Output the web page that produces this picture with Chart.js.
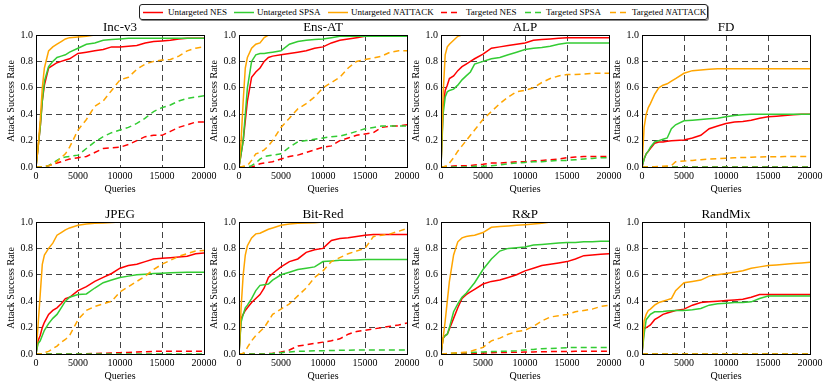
<!DOCTYPE html>
<html>
<head>
<meta charset="utf-8">
<script src="https://cdn.jsdelivr.net/npm/chart.js@4.4.0/dist/chart.umd.min.js"></script>
<style>
body{margin:0;background:#fff;width:830px;height:388px;overflow:hidden;position:relative;font-family:"Liberation Serif",serif;}
canvas{position:absolute;}
#legendBox{position:absolute;left:139px;top:4px;width:567px;height:14px;border:1px solid #222;border-radius:3px;box-shadow:1px 1px 0 #888;}
.lg{position:absolute;top:4px;height:16px;line-height:16px;font-size:9px;white-space:nowrap;color:#000;}
.lg i{font-family:"Liberation Serif",serif;font-style:italic;}
.sw{position:absolute;top:11px;}
</style>
</head>
<body>
<div id="legendBox"></div>
<script>
var panels = ['Inc-v3', 'Ens-AT', 'ALP', 'FD', 'JPEG', 'Bit-Red', 'R&P', 'RandMix'];
var queries = [0, 250, 500, 750, 1000, 1500, 2000, 2500, 3000, 3500, 4000, 5000, 6000, 7000, 8000, 9000, 10000, 11000, 12000, 13000, 14000, 15000, 16000, 17000, 18000, 19000, 20000];
var yTicks = [0, 0.2, 0.4, 0.6, 0.8, 1.0];
var xTicks = [0, 5000, 10000, 15000, 20000];

// one row per panel, same order as panels
var untargetedNES = [
	[0, .15, .3, .5, .62, .75, .77, .79, .8, .81, .82, .86, .87, .88, .89, .91, .91, .915, .92, .94, .95, .955, .96, .97, .975, .975, .975],
	[0, .1, .2, .35, .5, .68, .72, .75, .8, .83, .84, .85, .86, .87, .88, .9, .91, .94, .96, .97, .98, .99, .99, .99, .99, .99, .99],
	[0, .45, .58, .62, .67, .69, .73, .76, .78, .8, .82, .855, .9, .91, .92, .93, .94, .96, .965, .97, .975, .98, .98, .98, .98, .98, .98],
	[0, .06, .1, .12, .14, .18, .19, .19, .195, .198, .2, .205, .22, .24, .29, .31, .33, .34, .345, .355, .37, .38, .385, .39, .395, .4, .4],
	[0, .1, .14, .2, .24, .3, .33, .35, .38, .42, .43, .48, .51, .55, .58, .61, .65, .67, .68, .7, .72, .725, .73, .735, .74, .76, .765],
	[0, .27, .3, .33, .35, .39, .42, .45, .5, .58, .61, .66, .7, .72, .77, .79, .8, .86, .875, .88, .89, .9, .905, .905, .905, .905, .905],
	[0, .12, .14, .15, .19, .27, .35, .42, .45, .47, .49, .53, .55, .56, .58, .6, .63, .65, .67, .68, .69, .7, .72, .745, .75, .755, .76],
	[0, .19, .2, .21, .22, .26, .28, .3, .31, .32, .33, .34, .37, .39, .395, .4, .405, .41, .415, .43, .45, .45, .45, .45, .45, .45, .45]
];
var untargetedSPSA = [
	[0, .15, .3, .5, .65, .76, .8, .83, .84, .85, .87, .9, .93, .94, .96, .965, .97, .975, .975, .975, .975, .975, .975, .975, .975, .975, .975],
	[0, .1, .2, .4, .6, .8, .85, .86, .86, .865, .87, .88, .93, .95, .96, .965, .97, .98, .99, .99, .99, .99, .99, .99, .99, .99, .99],
	[0, .4, .53, .57, .58, .59, .62, .66, .69, .72, .78, .8, .82, .83, .85, .87, .89, .9, .905, .915, .93, .94, .94, .94, .94, .94, .94],
	[0, .06, .1, .12, .15, .19, .2, .21, .22, .29, .32, .35, .355, .36, .365, .37, .38, .39, .395, .4, .4, .4, .4, .4, .4, .4, .4],
	[0, .08, .1, .14, .18, .23, .27, .3, .35, .4, .43, .45, .455, .5, .54, .56, .58, .59, .6, .605, .61, .612, .615, .617, .62, .62, .62],
	[0, .24, .3, .35, .37, .42, .48, .52, .525, .53, .56, .6, .62, .64, .65, .66, .7, .705, .71, .71, .712, .715, .715, .715, .715, .715, .715],
	[0, .12, .14, .15, .2, .32, .38, .43, .46, .5, .54, .64, .72, .78, .8, .805, .81, .825, .83, .835, .84, .845, .845, .85, .85, .855, .855],
	[0, .15, .26, .28, .3, .32, .32, .322, .325, .328, .33, .33, .335, .345, .37, .38, .385, .39, .39, .395, .42, .44, .44, .44, .44, .44, .44]
];
var untargetedNAT = [
	[0, .15, .35, .6, .75, .88, .91, .93, .95, .97, .98, .985, .99, 1, 1, 1, 1, 1, 1, 1, 1, 1, 1, 1, 1, 1, 1],
	[0, .2, .5, .75, .83, .9, .93, .94, .98, 1, 1, 1, 1, 1, 1, 1, 1, 1, 1, 1, 1, 1, 1, 1, 1, 1, 1],
	[0, .55, .85, .91, .93, .96, .99, 1, 1, 1, 1, 1, 1, 1, 1, 1, 1, 1, 1, 1, 1, 1, 1, 1, 1, 1, 1],
	[0, .3, .4, .45, .48, .55, .6, .62, .63, .65, .67, .71, .73, .735, .74, .745, .745, .745, .745, .745, .745, .745, .745, .745, .745, .745, .745],
	[0, .22, .45, .68, .75, .8, .84, .9, .92, .94, .955, .975, .985, .99, .993, .996, 1, 1, 1, 1, 1, 1, 1, 1, 1, 1, 1],
	[0, .35, .6, .75, .82, .88, .91, .915, .93, .945, .955, .975, .985, .99, .992, .995, 1, 1, 1, 1, 1, 1, 1, 1, 1, 1, 1],
	[0, .12, .25, .4, .55, .75, .85, .88, .89, .895, .9, .92, .96, .965, .97, .975, .98, .985, .99, 1, 1, 1, 1, 1, 1, 1, 1],
	[0, .25, .3, .33, .34, .37, .39, .4, .41, .42, .48, .54, .55, .56, .59, .6, .61, .62, .63, .65, .66, .67, .675, .68, .685, .69, .695]
];
var targetedNES = [
	[0, 0, 0, 0, 0, .01, .02, .03, .04, .05, .06, .07, .08, .11, .14, .145, .15, .17, .2, .23, .24, .24, .27, .3, .32, .34, .34],
	[0, 0, 0, 0, 0, 0, .01, .025, .03, .035, .04, .06, .08, .09, .11, .13, .15, .16, .2, .22, .24, .25, .26, .3, .31, .31, .32],
	[0, 0, 0, 0, .005, .008, .01, .01, .01, .012, .015, .02, .03, .03, .035, .04, .04, .045, .05, .055, .06, .07, .075, .08, .08, .08, .08],
	[0, 0, 0, 0, 0, 0, 0, 0, 0, 0, 0, 0, 0, 0, 0, 0, 0, 0, 0, 0, 0, 0, 0, 0, 0, 0, 0],
	[0, 0, 0, 0, 0, 0, 0, 0, 0, 0, 0, 0, .002, .004, .005, .008, .01, .012, .015, .017, .02, .02, .02, .02, .02, .02, .02],
	[0, 0, 0, 0, 0, 0, 0, 0, 0, .003, .006, .015, .03, .06, .07, .08, .09, .1, .115, .15, .17, .18, .19, .2, .21, .22, .235],
	[0, 0, 0, 0, 0, .002, .003, .004, .004, .005, .005, .007, .01, .011, .012, .013, .015, .016, .017, .018, .018, .019, .02, .02, .02, .02, .02],
	[0, 0, 0, 0, 0, 0, 0, 0, 0, 0, 0, 0, 0, 0, 0, 0, 0, 0, 0, 0, 0, 0, 0, 0, 0, 0, 0]
];
var targetedSPSA = [
	[0, 0, 0, 0, 0, .01, .03, .05, .07, .075, .08, .09, .14, .19, .23, .26, .28, .3, .33, .37, .42, .45, .47, .5, .52, .53, .54],
	[0, 0, 0, 0, 0, .01, .03, .06, .08, .085, .09, .1, .15, .19, .2, .21, .22, .23, .235, .25, .27, .29, .3, .31, .31, .31, .31],
	[0, 0, 0, 0, 0, 0, 0, 0, 0, 0, .005, .005, .01, .015, .025, .03, .035, .04, .04, .045, .05, .05, .055, .06, .065, .07, .07],
	[0, 0, 0, 0, 0, 0, 0, 0, 0, 0, 0, 0, 0, 0, 0, 0, 0, 0, 0, 0, 0, 0, 0, 0, 0, 0, 0],
	[0, 0, 0, 0, 0, 0, 0, 0, 0, 0, 0, 0, 0, 0, 0, 0, 0, 0, 0, 0, 0, 0, 0, 0, 0, 0, 0],
	[0, 0, 0, 0, 0, 0, 0, 0, 0, .002, .004, .01, .015, .02, .022, .024, .025, .026, .028, .029, .03, .03, .03, .03, .03, .03, .03],
	[0, 0, 0, 0, .005, .006, .008, .009, .01, .012, .013, .015, .018, .02, .022, .025, .03, .035, .04, .042, .045, .048, .05, .05, .05, .05, .05],
	[0, 0, 0, 0, 0, 0, 0, 0, 0, 0, 0, 0, 0, 0, 0, 0, 0, 0, 0, 0, 0, 0, 0, 0, 0, 0, 0]
];
var targetedNAT = [
	[0, 0, 0, 0, .005, .01, .02, .04, .07, .1, .15, .28, .36, .46, .5, .58, .66, .68, .74, .78, .8, .81, .815, .84, .88, .9, .91],
	[0, 0, .005, .008, .01, .05, .1, .11, .13, .16, .2, .3, .37, .44, .48, .53, .6, .64, .68, .75, .8, .815, .825, .84, .87, .88, .88],
	[0, 0, .005, .01, .03, .07, .12, .16, .2, .24, .28, .36, .42, .48, .53, .57, .58, .6, .64, .67, .69, .7, .7, .705, .71, .71, .71],
	[0, 0, 0, 0, 0, .002, .004, .006, .008, .01, .04, .045, .05, .055, .06, .063, .067, .07, .072, .074, .076, .077, .078, .079, .08, .08, .08],
	[0, 0, 0, 0, .01, .02, .04, .06, .09, .11, .14, .26, .33, .36, .38, .4, .47, .51, .55, .59, .64, .68, .71, .74, .76, .78, .785],
	[0, 0, .005, .02, .05, .1, .14, .17, .2, .25, .3, .34, .38, .44, .5, .58, .63, .7, .73, .76, .78, .8, .89, .9, .91, .93, .95],
	[0, 0, .002, .004, .005, .008, .01, .012, .015, .02, .03, .05, .1, .12, .15, .17, .18, .21, .25, .28, .29, .3, .32, .33, .34, .36, .37],
	[0, 0, 0, 0, 0, 0, 0, 0, 0, 0, 0, 0, 0, 0, 0, 0, 0, 0, 0, 0, 0, 0, 0, 0, 0, 0, 0]
];

var seriesData = [untargetedNES, untargetedSPSA, untargetedNAT, targetedNES, targetedSPSA, targetedNAT];
var seriesNames = ['Untargeted NES', 'Untargeted SPSA', 'Untargeted <i>N</i>ATTACK', 'Targeted NES', 'Targeted SPSA', 'Targeted <i>N</i>ATTACK'];
var seriesColors = ['#ff0000', '#33cc33', '#ffa500', '#ff0000', '#33cc33', '#ffa500'];

var FONT = '"Liberation Serif", "DejaVu Serif", serif';
var plotLeft = [36, 239, 441, 642];
var plotTop = [35, 222];

// legend
var swX = [143, 234, 328, 441, 525, 610];
var txtX = [168, 257, 351, 466, 546, 632];
for(var i = 0; i < 6; i++){
	var dash = i >= 3 ? ' stroke-dasharray="6,4"' : '';
	var sw = '<svg class="sw" style="left:'+swX[i]+'px" width="20" height="3"><line x1="0" y1="1.5" x2="20" y2="1.5" stroke="'+seriesColors[i]+'" stroke-width="1.5"'+dash+'/></svg>';
	document.body.insertAdjacentHTML('beforeend', sw);
	document.body.insertAdjacentHTML('beforeend', '<div class="lg" style="left:'+txtX[i]+'px">'+seriesNames[i]+'</div>');
}

// axes frame on top of the lines + panel title centred on the plot
var framePlugin = {
	id: 'frame',
	afterDatasetsDraw: function(chart){
		var a = chart.chartArea;
		var ctx = chart.ctx;
		ctx.save();
		ctx.strokeStyle = '#000';
		ctx.lineWidth = 1;
		ctx.setLineDash([]);
		ctx.strokeRect(a.left + 0.5, a.top + 0.5, a.right - a.left, a.bottom - a.top);
		ctx.fillStyle = '#000';
		ctx.font = '13px ' + FONT;
		ctx.textAlign = 'center';
		ctx.textBaseline = 'alphabetic';
		ctx.fillText(chart.options.panelTitle, (a.left + a.right) / 2, a.top - 4);
		ctx.restore();
	}
};

function makeChart(p){
	var col = p % 4;
	var row = Math.floor(p / 4);
	var canvas = document.createElement('canvas');
	canvas.width = 222;
	canvas.height = 195;
	canvas.style.left = (plotLeft[col] - 36) + 'px';
	canvas.style.top = (plotTop[row] - 35) + 'px';
	document.body.appendChild(canvas);

	var datasets = [];
	for(var s = 0; s < 6; s++){
		var pts = [];
		var vals = seriesData[s][p];
		for(var j = 0; j < queries.length; j++){
			pts.push({x: queries[j], y: vals[j]});
		}
		datasets.push({
			label: seriesNames[s],
			data: pts,
			borderColor: seriesColors[s],
			borderWidth: 1.5,
			borderDash: s >= 3 ? [6, 4] : [],
			pointRadius: 0,
			fill: false,
			tension: 0,
			order: 6 - s
		});
	}

	new Chart(canvas.getContext('2d'), {
		type: 'line',
		data: {datasets: datasets},
		plugins: [framePlugin],
		options: {
			panelTitle: panels[p],
			responsive: false,
			animation: false,
			events: [],
			layout: {padding: {left: 0, right: 18, top: 35, bottom: 0}},
			plugins: {
				legend: {display: false},
				tooltip: {enabled: false},
				title: {display: false}
			},
			scales: {
				x: {
					type: 'linear', min: 0, max: 20000,
					afterFit: function(sc){ sc.height = 28; },
					afterBuildTicks: function(sc){ sc.ticks = xTicks.map(function(v){ return {value: v}; }); },
					ticks: {color: '#000', font: {family: FONT, size: 10}, padding: 3, maxRotation: 0, autoSkip: false,
						callback: function(v){ return String(v); }},
					grid: {color: '#444', lineWidth: 1, drawTicks: false},
					border: {display: false, dash: [6, 4]},
					title: {display: true, text: 'Queries', color: '#000', font: {family: FONT, size: 10}, padding: {top: 0, bottom: 0}}
				},
				y: {
					min: 0, max: 1,
					afterFit: function(sc){ sc.width = 36; },
					afterBuildTicks: function(sc){ sc.ticks = yTicks.map(function(v){ return {value: v}; }); },
					ticks: {color: '#000', font: {family: FONT, size: 10}, padding: 3, autoSkip: false,
						callback: function(v){ return Number(v).toFixed(1); }},
					grid: {color: '#444', lineWidth: 1, drawTicks: false},
					border: {display: false, dash: [6, 4]},
					title: {display: true, text: 'Attack Success Rate', color: '#000', font: {family: FONT, size: 10}, padding: {top: 5, bottom: 0}}
				}
			}
		}
	});
}

for(var p = 0; p < panels.length; p++){
	makeChart(p);
}
</script>
</body>
</html>
